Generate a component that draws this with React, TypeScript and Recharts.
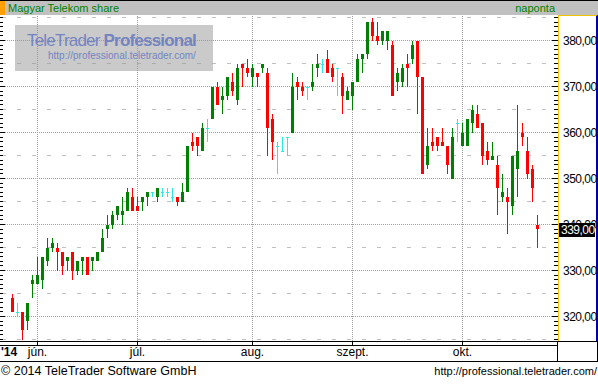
import { ComposedChart, Bar, XAxis, YAxis, ReferenceLine } from 'recharts';

// trading days shown on the chart (2014)
const mayDays = [26, 27, 28, 29, 30];
const junDays = [2, 3, 4, 5, 6, 10, 11, 12, 13, 16, 17, 18, 19, 20, 23, 24, 25, 26, 27, 30];
const julDays = [1, 2, 3, 4, 7, 8, 9, 10, 11, 14, 15, 16, 17, 18, 21, 22, 23, 24, 25, 28, 29, 30, 31];
const augDays = [1, 4, 5, 6, 7, 8, 11, 12, 13, 14, 15, 18, 19, 21, 22, 25, 26, 27, 28, 29];
const sepDays = [1, 2, 3, 4, 5, 8, 9, 10, 11, 12, 15, 16, 17, 18, 19, 22, 23, 24, 25, 26, 29, 30];
const octDays = [1, 2, 3, 6, 7, 8, 9, 10, 13, 14, 15, 16, 17, 20, 21, 22];

const monthTicks = ['06-02', '07-01', '08-01', '09-01', '10-01'];
const monthLabels = ['jún.', 'júl.', 'aug.', 'szept.', 'okt.'];

const opens = [
  324, 321, 321, 319, 327, 327, 328, 332, 335, 335,
  334, 332, 334, 330, 332, 333, 332, 332, 334, 339,
  340, 342, 342, 343, 346, 344, 345, 346, 347, 346,
  347, 347, 346, 346, 345, 347, 358, 359, 356, 361,
  363, 370, 367, 368, 371, 367, 375, 374, 372, 373,
  374, 373, 363, 357, 356, 359, 360, 371, 370, 370,
  370, 374, 375, 376, 374, 374, 372, 367, 368, 371,
  376, 377, 384, 381, 380, 380, 379, 371, 371, 375,
  376, 380, 372, 353, 358, 359, 358, 357, 350, 362,
  357, 357, 362, 364, 362, 356, 354, 353, 346, 346,
  344, 352, 360, 356, 352, 340,
];
const highs = [
  325, 323, 321, 323, 329, 333, 333, 337, 337, 336,
  334, 333, 334, 332, 333, 333, 333, 334, 339, 342,
  343, 344, 346, 348, 348, 346, 346, 347, 347, 348,
  348, 348, 348, 346, 349, 357, 360, 359, 362, 363,
  370, 371, 370, 372, 373, 375, 375, 376, 375, 373,
  375, 374, 364, 358, 359, 359, 373, 372, 371, 370,
  375, 377, 376, 378, 375, 374, 373, 370, 371, 377,
  377, 384, 385, 384, 382, 382, 380, 374, 375, 377,
  380, 380, 372, 361, 361, 359, 361, 357, 361, 363,
  362, 363, 366, 366, 362, 358, 358, 355, 351, 348,
  355, 366, 362, 359, 353, 342,
];
const lows = [
  321, 320, 315, 317, 324, 327, 326, 331, 334, 330,
  329, 330, 328, 329, 329, 329, 330, 332, 334, 337,
  339, 341, 340, 343, 343, 343, 343, 344, 346, 345,
  346, 346, 345, 344, 345, 347, 356, 355, 356, 358,
  363, 366, 364, 367, 368, 366, 370, 372, 370, 370,
  373, 355, 354, 351, 356, 355, 360, 367, 368, 367,
  369, 372, 373, 373, 371, 368, 364, 367, 365, 371,
  373, 376, 380, 379, 379, 378, 368, 369, 370, 370,
  375, 364, 351, 352, 356, 356, 357, 351, 350, 358,
  357, 357, 360, 361, 353, 353, 354, 342, 345, 338,
  342, 346, 357, 350, 345, 335,
];
const closes = [
  321, 321, 317, 323, 328, 329, 333, 335, 336, 334,
  331, 333, 330, 332, 333, 329, 333, 334, 337, 340,
  342, 344, 343, 347, 343, 343, 346, 347, 347, 348,
  347, 347, 346, 345, 347, 357, 357, 357, 361, 361,
  370, 366, 368, 372, 369, 374, 374, 373, 374, 372,
  375, 361, 358, 357, 356, 359, 370, 370, 369, 370,
  371, 375, 375, 373, 372, 374, 368, 369, 371, 376,
  377, 384, 381, 380, 382, 382, 368, 373, 374, 374,
  379, 372, 351, 357, 357, 357, 357, 353, 359, 362,
  360, 363, 365, 361, 355, 354, 355, 348, 347, 345,
  355, 356, 359, 351, 348, 339,
];

const majorLevels = [320, 330, 340, 350, 360, 370, 380];
const minorLevels = [315, 325, 335, 345, 355, 365, 375, 385];

const UP = '#008000';
const DOWN = '#ff0000';
const FLAT = '#2ee6e6';
const FONT = '"Liberation Sans", Arial, sans-serif';

const pad = (d: number) => (d < 10 ? `0${d}` : `${d}`);
const dates = [
  ...mayDays.map((d) => `05-${pad(d)}`),
  ...junDays.map((d) => `06-${pad(d)}`),
  ...julDays.map((d) => `07-${pad(d)}`),
  ...augDays.map((d) => `08-${pad(d)}`),
  ...sepDays.map((d) => `09-${pad(d)}`),
  ...octDays.map((d) => `10-${pad(d)}`),
];

const rows = dates.map((date, i) => ({
  date,
  open: opens[i],
  high: highs[i],
  low: lows[i],
  close: closes[i],
  range: [lows[i], highs[i]],
}));

const lastClose = closes[closes.length - 1];
const yDomain = [314.674, 385.5435];

// minor axis ticks every unit, the last price goes last so it is drawn on top
const axisTicks: number[] = [];
for (let v = 315; v <= 385; v++) if (v !== lastClose) axisTicks.push(v);
const rightTicks = [...axisTicks, lastClose];
const leftTicks = [...axisTicks, lastClose];

const fmt = (v: number) => v.toFixed(2).replace('.', ',');

const Candle = (props: any) => {
  const { x, y, width, height, payload } = props;
  const { open, close, high, low } = payload;
  const color = close > open ? UP : close < open ? DOWN : FLAT;
  const ratio = high === low ? 0 : height / (high - low);
  const toY = (v: number) => y + (high - v) * ratio;
  const wickX = Math.round(x + width / 2 - 0.5);
  const top = Math.round(y);
  const bottom = Math.round(y + height);
  const bTop = Math.round(toY(Math.max(open, close)));
  const bBot = Math.round(toY(Math.min(open, close)));
  return (
    <g>
      <rect x={wickX} y={top} width={1} height={Math.max(1, bottom - top)} fill={color} />
      <rect
        x={Math.round(x)}
        y={bTop}
        width={Math.round(width)}
        height={open === close ? 1 : Math.max(1, bBot - bTop)}
        fill={color}
      />
    </g>
  );
};

const RightTick = (props: any) => {
  const { x, y, payload } = props;
  const v = payload.value;
  const yy = Math.floor(y) + 0.5;
  if (v === lastClose && props.index === rightTicks.length - 1) {
    return (
      <g>
        <line x1={x - 4} x2={x} y1={yy} y2={yy} stroke="#000" />
        <rect x={x + 1} y={Math.floor(y) - 6} width={36} height={14} fill="#000" />
        <text x={x + 3} y={yy + 4.5} fill="#fff" fontSize={12} letterSpacing={-0.5} style={{ fontFamily: FONT }}>
          {fmt(v)}
        </text>
      </g>
    );
  }
  const major = v % 10 === 0;
  return (
    <g>
      <line x1={x - (major ? 6 : 4)} x2={x} y1={yy} y2={yy} stroke="#000" />
      {major && (
        <text x={x + 5} y={yy + 4.5} fill="#000" fontSize={12} letterSpacing={-0.5} style={{ fontFamily: FONT }}>
          {fmt(v)}
        </text>
      )}
    </g>
  );
};

const LeftTick = (props: any) => {
  const { x, y, payload } = props;
  const yy = Math.floor(y) + 0.5;
  const major = payload.value % 10 === 0;
  return <line x1={x - 3} x2={x + (major ? 2 : 0)} y1={yy} y2={yy} stroke="#000" />;
};

const MonthTick = (props: any) => {
  const { x, y, payload } = props;
  const label = monthLabels[monthTicks.indexOf(payload.value)];
  return (
    <text x={x} y={y + 9} textAnchor="middle" fill="#000" fontSize={12} style={{ fontFamily: FONT }}>
      {label}
    </text>
  );
};

export default function App() {
  return (
    <div
      style={{
        position: 'absolute',
        left: 0,
        top: 0,
        width: 598,
        height: 384,
        background: '#fff',
        overflow: 'hidden',
        fontFamily: FONT,
      }}
    >
      {/* title bar */}
      <div style={{ position: 'absolute', left: 0, top: 0, width: 598, height: 15, background: '#c0c0c0', borderTop: '1px solid #000', boxSizing: 'border-box' }} />
      <div style={{ position: 'absolute', left: 0, top: 1, width: 5, height: 14, background: '#ffa000' }} />
      <div style={{ position: 'absolute', left: 8, top: 1, fontSize: 11, lineHeight: '14px', color: '#008000' }}>
        Magyar Telekom share
      </div>
      <div style={{ position: 'absolute', right: 43, top: 1, fontSize: 11, lineHeight: '14px', color: '#008000' }}>naponta</div>

      {/* price axis panel */}
      <div
        style={{
          position: 'absolute',
          left: 558,
          top: 15,
          width: 40,
          height: 326,
          borderLeft: '1px solid #f5c400',
          borderTop: '1px solid #f5c400',
          borderRight: '2px solid #0000a8',
          boxSizing: 'border-box',
        }}
      />

      <div style={{ position: 'absolute', left: 0, top: 0 }}>
        <ComposedChart width={598} height={362} data={rows} margin={{ top: 15, right: 0, bottom: 0, left: 0 }}>
          <XAxis
            dataKey="date"
            ticks={monthTicks}
            interval={0}
            padding={{ left: 7, right: 18 }}
            height={21}
            axisLine={false}
            tickLine={{ stroke: '#000' }}
            tickSize={4}
            tick={(p: any) => <MonthTick {...p} />}
          />
          <YAxis
            yAxisId="left"
            orientation="left"
            width={3}
            domain={yDomain}
            allowDataOverflow
            ticks={leftTicks}
            interval={0}
            axisLine={false}
            tickLine={false}
            tickSize={0}
            tickMargin={0}
            tick={(p: any) => <LeftTick {...p} />}
          />
          <YAxis
            yAxisId="right"
            orientation="right"
            width={40}
            domain={yDomain}
            allowDataOverflow
            ticks={rightTicks}
            interval={0}
            axisLine={false}
            tickLine={false}
            tickSize={0}
            tickMargin={0}
            tick={(p: any) => <RightTick {...p} />}
          />
          {minorLevels.map((v) => (
            <ReferenceLine
              key={`minor-${v}`}
              yAxisId="right"
              y={v}
              stroke="#c0c0c0"
              strokeDasharray="4 11"
              strokeDashoffset={3}
              zIndex={-10}
            />
          ))}
          {majorLevels.map((v) => (
            <ReferenceLine key={`major-${v}`} yAxisId="right" y={v} stroke="#a0a0a0" strokeDasharray="1 1" zIndex={-10} />
          ))}
          {monthTicks.map((d) => (
            <ReferenceLine key={`month-${d}`} yAxisId="right" x={d} stroke="#a0a0a0" strokeDasharray="1 1" zIndex={-10} />
          ))}
          <Bar yAxisId="right" dataKey="range" barSize={3} shape={(p: any) => <Candle {...p} />} isAnimationActive={false} />
        </ComposedChart>
      </div>

      {/* watermark */}
      <div style={{ position: 'absolute', left: 15, top: 25, width: 198, height: 46, background: 'rgba(150,150,150,0.5)' }} />
      <div style={{ position: 'absolute', left: 27, top: 32, fontSize: 17, lineHeight: '17px', letterSpacing: -0.8, color: '#7484c0', whiteSpace: 'nowrap' }}>
        TeleTrader <b>Professional</b>
      </div>
      <div style={{ position: 'absolute', left: 48, top: 51, fontSize: 10, lineHeight: '10px', color: '#7484c0', whiteSpace: 'nowrap' }}>
        http://professional.teletrader.com/
      </div>

      {/* time axis frame */}
      <div style={{ position: 'absolute', left: 0, top: 341, width: 598, height: 1, background: '#000' }} />
      <div style={{ position: 'absolute', left: 0, top: 345, width: 558, height: 1, background: '#000' }} />
      <div style={{ position: 'absolute', left: 0, top: 361, width: 598, height: 1, background: '#000' }} />
      <div style={{ position: 'absolute', left: 557, top: 341, width: 41, height: 21, border: '1px solid #000', boxSizing: 'border-box' }} />
      <div style={{ position: 'absolute', left: 1, top: 346, fontSize: 12, lineHeight: '13px', fontWeight: 'bold' }}>'14</div>

      {/* footer */}
      <div style={{ position: 'absolute', left: 1, top: 364, fontSize: 12.5, lineHeight: '14px', whiteSpace: 'nowrap' }}>
        © 2014 TeleTrader Software GmbH
      </div>
      <div style={{ position: 'absolute', right: 1, top: 365, fontSize: 11, lineHeight: '13px', whiteSpace: 'nowrap' }}>
        http://professional.teletrader.com/
      </div>
    </div>
  );
}
